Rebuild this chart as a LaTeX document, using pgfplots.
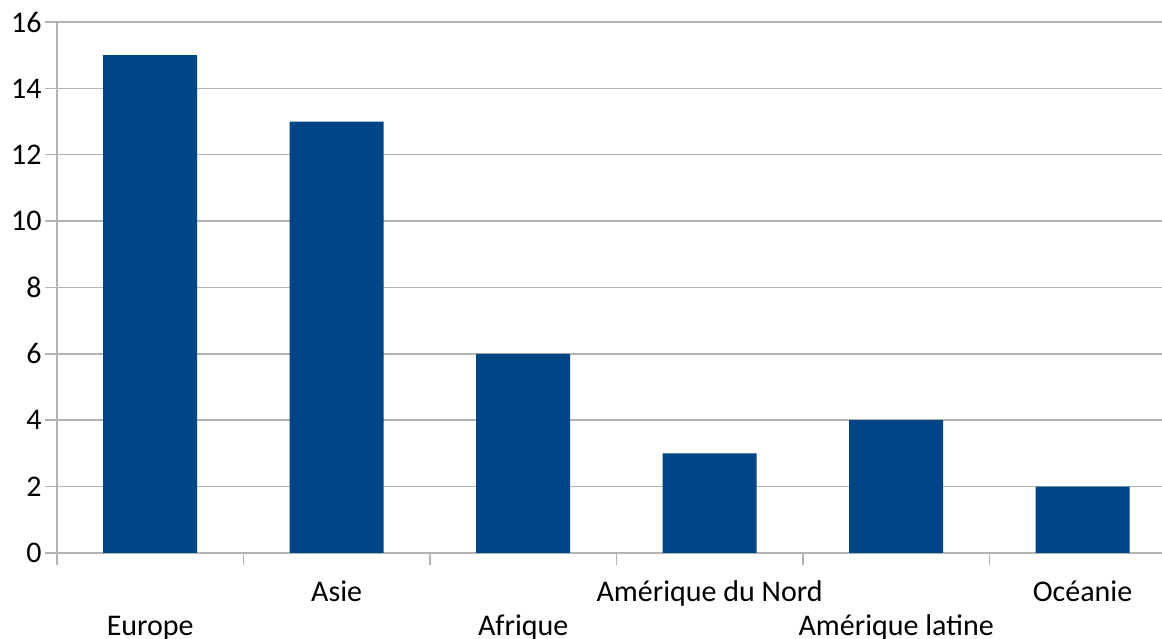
\documentclass[border=0pt]{standalone}
\usepackage{pgfplots}
\pgfplotsset{compat=1.18}
\usepackage{fontspec}
\setmainfont{Carlito}
\definecolor{barblue}{HTML}{004586}
\definecolor{gridgray}{HTML}{B3B3B3}
\begin{document}
\fontsize{15pt}{17pt}\selectfont
\begin{tikzpicture}
\begin{axis}[
  scale only axis,
  width=552.5pt, height=265.5pt,
  xmin=-0.5, xmax=5.426,
  ymin=0, ymax=16,
  ytick={0,2,...,16},
  axis lines=left,
  axis line style={-, gridgray, line width=0.75pt},
  ymajorgrids,
  grid style={gridgray, line width=0.75pt},
  tick style={gridgray, line width=0.75pt},
  tick align=outside,
  major tick length=6pt,
  y tick label style={inner sep=1.5pt},
  /pgf/number format/assume math mode=true,
  ticklabel style={font=\fontsize{15pt}{17pt}\selectfont, text=black},
  xtick={-0.5,0.5,...,4.5},
  xticklabels={},
  extra x ticks={0,1,2,3,4,5},
  extra x tick labels={\raisebox{-17pt}{Europe}, Asie, \raisebox{-17pt}{Afrique}, Amérique du Nord, \raisebox{-17pt}{Amérique latine}, Océanie},
  extra x tick style={tick style={draw=none}, grid=none,
    tick label style={anchor=base, yshift=-18.5pt}},
  ybar, bar width=47pt,
  clip=false,
]
\addplot[fill=barblue, draw=none, bar shift=0pt] coordinates {
  (0,15) (1,13) (2,6) (3,3) (4,4) (5,2)
};
\coordinate (bl) at (rel axis cs:0,0);
\coordinate (tr) at (rel axis cs:1,1);
\end{axis}
\pgfresetboundingbox
\useasboundingbox ([shift={(-28.5pt,-43pt)}]bl) rectangle ([shift={(0pt,11pt)}]tr);
\end{tikzpicture}
\end{document}
